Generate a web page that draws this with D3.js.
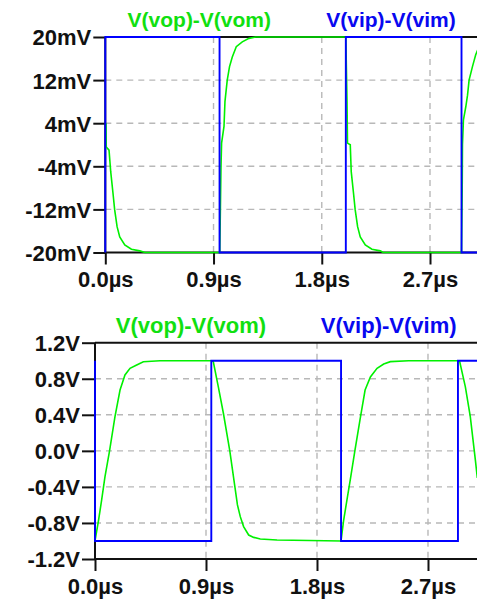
<!DOCTYPE html>
<html>
<head>
<meta charset="utf-8">
<script src="https://cdn.jsdelivr.net/npm/d3@7"></script>
<style>
  html, body { margin: 0; padding: 0; background: #fff; }
  svg { display: block; }
  text { font-family: "Liberation Sans", Arial, sans-serif; font-weight: bold; }
</style>
</head>
<body>
<svg id="chart" width="477" height="600"></svg>
<script>
// Shared time axis, microseconds
const timeSpan = [0, 3.1];
const timeTicks = [0, 0.9, 1.8, 2.7];
const timeTickLabels = ["0.0µs", "0.9µs", "1.8µs", "2.7µs"];

const traceNames = ["V(vop)-V(vom)", "V(vip)-V(vim)"];

// Upper plot: small-signal run, millivolts
const mvTicks = [20, 12, 4, -4, -12, -20];
const mvTickLabels = ["20mV", "12mV", "4mV", "-4mV", "-12mV", "-20mV"];
const smallOutTime = [0.006, 0.008, 0.031, 0.045, 0.064, 0.078, 0.098, 0.12, 0.162, 0.217, 0.287, 0.33,
  0.952, 0.962, 0.967, 0.987, 0.995, 1.014, 1.033, 1.056, 1.089, 1.139, 1.195, 1.25,
  2.0, 2.01, 2.014, 2.037, 2.045, 2.064, 2.078, 2.098, 2.12, 2.162, 2.217, 2.287, 2.31,
  2.962, 2.968, 2.97, 2.978, 2.998, 3.012, 3.025, 3.053, 3.08, 3.1];
const smallOutMv = [4.0, -0.4, -1.0, -5.0, -9.0, -12.1, -15.2, -17.1, -18.6, -19.4, -19.7, -20,
  -20, -4.1, 0.3, 3.4, 8.0, 12.0, 14.5, 16.3, 18.2, 19.1, 19.75, 20,
  20, 8.0, 0.3, 0.0, -5.0, -9.0, -12.1, -15.2, -17.1, -18.6, -19.4, -19.7, -20,
  -20, -7.8, 0.0, 4.6, 7.1, 9.2, 12.0, 14.5, 16.7, 17.8];
const smallInTime = [0, 0, 0.95, 0.95, 2.0, 2.0, 2.962, 2.962, 3.1];
const smallInMv = [-20, 20, 20, -20, -20, 20, 20, -20, -20];

// Lower plot: large-signal run, volts
const vTicks = [1.2, 0.8, 0.4, 0, -0.4, -0.8, -1.2];
const vTickLabels = ["1.2V", "0.8V", "0.4V", "0.0V", "-0.4V", "-0.8V", "-1.2V"];
const largeOutTime = [0, 0.008, 0.027, 0.054, 0.081, 0.118, 0.162, 0.203, 0.243, 0.284, 0.338, 0.392, 0.527, 0.943,
  0.959, 1.0, 1.041, 1.093, 1.155, 1.178, 1.205, 1.246, 1.287, 1.34, 1.476, 1.995,
  2.016, 2.043, 2.07, 2.107, 2.153, 2.19, 2.233, 2.287, 2.341, 2.395, 2.543, 2.943,
  2.957, 3.003, 3.043, 3.084, 3.1];
const largeOutV = [-1.0, -0.934, -0.786, -0.545, -0.287, 0.0, 0.379, 0.675, 0.842, 0.916, 0.953, 0.989, 1.0, 1.0,
  0.99, 0.71, 0.417, 0.0, -0.6, -0.73, -0.84, -0.934, -0.96, -0.978, -0.99, -1.0,
  -0.77, -0.545, -0.32, 0.0, 0.38, 0.675, 0.82, 0.916, 0.964, 0.99, 1.0, 1.0,
  0.99, 0.71, 0.38, -0.1, -0.3];
const largeInTime = [0, 0, 0.943, 0.943, 1.995, 1.995, 2.943, 2.943, 3.1];
const largeInV = [1.0, -1.0, -1.0, 1.0, 1.0, -1.0, -1.0, 1.0, 1.0];

const outColor = "#00f000", inColor = "#0000ff";
const outText = "#10e010", inText = "#0808f0";

const svg = d3.select("#chart");
svg.append("rect").attr("width", 477).attr("height", 600).attr("fill", "#fff");

function drawPlot(cfg) {
  const x = d3.scaleLinear().domain(timeSpan).range([cfg.left, cfg.right]);
  const y = d3.scaleLinear().domain([cfg.yTicks[cfg.yTicks.length - 1], cfg.yTicks[0]]).range([cfg.bottom, cfg.top]);
  const g = svg.append("g");

  // dashed grid
  const grid = g.append("g").attr("stroke", "#b8b8b8").attr("stroke-width", 1.4).attr("stroke-dasharray", "6,5");
  grid.selectAll("line.h").data(cfg.yTicks.slice(1, -1)).join("line")
    .attr("x1", cfg.left).attr("x2", 477).attr("y1", d => y(d)).attr("y2", d => y(d));
  grid.selectAll("line.v").data(timeTicks.slice(1)).join("line")
    .attr("x1", d => x(d)).attr("x2", d => x(d)).attr("y1", cfg.top).attr("y2", cfg.bottom);

  // frame
  const frame = g.append("g").attr("stroke", "#111").attr("stroke-width", 2);
  frame.append("line").attr("x1", cfg.left).attr("x2", 477).attr("y1", cfg.top).attr("y2", cfg.top);
  frame.append("line").attr("x1", cfg.left).attr("x2", 477).attr("y1", cfg.bottom).attr("y2", cfg.bottom);
  frame.append("line").attr("x1", cfg.left).attr("x2", cfg.left).attr("y1", cfg.top).attr("y2", cfg.bottom);

  // axes
  const yAxis = g.append("g").attr("transform", `translate(${cfg.left},0)`)
    .call(d3.axisLeft(y).tickValues(cfg.yTicks).tickFormat((d, i) => cfg.yLabels[i]).tickSize(cfg.yTickLen).tickPadding(2));
  const xAxis = g.append("g").attr("transform", `translate(0,${cfg.bottom})`)
    .call(d3.axisBottom(x).tickValues(timeTicks).tickFormat((d, i) => timeTickLabels[i]).tickSize(12).tickPadding(7));
  [yAxis, xAxis].forEach(a => {
    a.select(".domain").remove();
    a.attr("font-family", null).attr("font-size", null);
    a.selectAll(".tick line").attr("stroke", "#111").attr("stroke-width", 2);
    a.selectAll(".tick text").attr("fill", "#111").style("font-size", "22px");
  });
  yAxis.selectAll(".tick text").attr("dy", "0.36em");

  // traces
  const clipId = "clip" + cfg.id;
  svg.append("clipPath").attr("id", clipId).append("rect")
    .attr("x", cfg.left - 2).attr("y", cfg.top - 2).attr("width", 480 - cfg.left).attr("height", cfg.bottom - cfg.top + 4);
  const traces = g.append("g").attr("clip-path", `url(#${clipId})`).attr("fill", "none");
  const line = (tArr, vArr) => d3.line().x(i => x(tArr[i])).y(i => y(vArr[i]))(d3.range(tArr.length));
  traces.append("path").attr("d", line(cfg.outT, cfg.outV)).attr("stroke", outColor).attr("stroke-width", 1.6);
  traces.append("path").attr("d", line(cfg.inT, cfg.inV)).attr("stroke", inColor).attr("stroke-width", 1.9);

  // trace names
  g.append("text").attr("x", cfg.legendX[0]).attr("y", cfg.legendY).attr("text-anchor", "middle")
    .style("font-size", cfg.legendSize + "px").attr("fill", outText).text(traceNames[0]);
  g.append("text").attr("x", cfg.legendX[1]).attr("y", cfg.legendY).attr("text-anchor", "middle")
    .style("font-size", cfg.legendSize + "px").attr("fill", inText).text(traceNames[1]);
}

drawPlot({
  id: "Small", left: 105.3, right: 105.3 + 3.1 * 120.26, top: 37, bottom: 252.5,
  yTicks: mvTicks, yLabels: mvTickLabels, yTickLen: 12,
  outT: smallOutTime, outV: smallOutMv, inT: smallInTime, inV: smallInMv,
  legendX: [199.3, 391], legendY: 27, legendSize: 21
});

drawPlot({
  id: "Large", left: 95, right: 95 + 3.1 * 123.33, top: 342.7, bottom: 559,
  yTicks: vTicks, yLabels: vTickLabels, yTickLen: 13,
  outT: largeOutTime, outV: largeOutV, inT: largeInTime, inV: largeInV,
  legendX: [191, 388.7], legendY: 333, legendSize: 22
});
</script>
</body>
</html>
